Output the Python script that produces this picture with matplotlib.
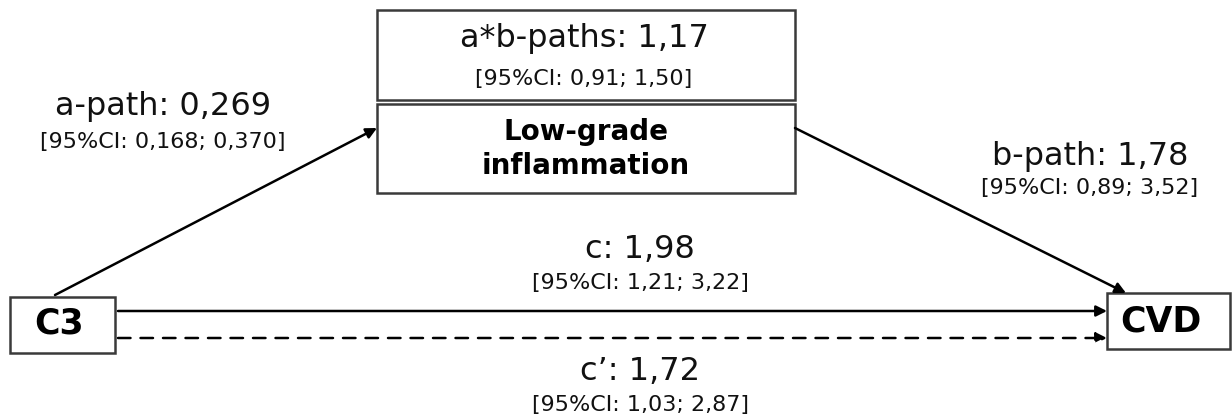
import matplotlib.pyplot as plt
from matplotlib.patches import Rectangle

# path estimates and confidence intervals
path_names = ['a-path', 'a*b-paths', 'b-path', 'c', 'c\u2019']
estimates = ['0,269', '1,17', '1,78', '1,98', '1,72']
ci_low = ['0,168', '0,91', '0,89', '1,21', '1,03']
ci_high = ['0,370', '1,50', '3,52', '3,22', '2,87']

node_labels = ['C3', 'Low-grade\ninflammation', 'CVD']

fig = plt.figure(figsize=(12.32, 4.2), dpi=100)
ax = fig.add_axes([0, 0, 1, 1])
ax.set_xlim(0, 1232)
ax.set_ylim(420, 0)
ax.axis('off')

box_col = '#3a3a3a'

def box(x0, y0, x1, y1):
    ax.add_patch(Rectangle((x0, y0), x1 - x0, y1 - y0, fill=False,
                           edgecolor=box_col, lw=1.8))

# boxes
box(377, 10, 795, 100)
box(377, 104, 795, 193)
box(10, 297, 115, 353)
box(1107, 293, 1230, 349)

# node labels
ax.text(59, 324, node_labels[0], ha='center', va='center', fontsize=25, fontweight='bold')
ax.text(586, 149, node_labels[1], ha='center', va='center', fontsize=20,
        fontweight='bold', linespacing=1.3)
ax.text(1161, 321, node_labels[2], ha='center', va='center', fontsize=25, fontweight='bold')

def arrow(p0, p1, ls='-'):
    ax.annotate('', xy=p1, xytext=p0,
                arrowprops=dict(arrowstyle='-|>', color='black', lw=1.8,
                                linestyle=ls, mutation_scale=16,
                                shrinkA=0, shrinkB=0))

arrow((55, 295), (377, 128))
arrow((795, 128), (1126, 293))
arrow((118, 311), (1107, 311))
arrow((118, 338), (1107, 338), ls=(0, (5, 4)))

# path labels: (x, y of estimate line, y of CI line)
label_pos = [(163, 106, 142), (584, 38, 79), (1090, 156, 188),
             (640, 249, 283), (640, 372, 405)]
for i, (x, y1, y2) in enumerate(label_pos):
    ax.text(x, y1, f'{path_names[i]}: {estimates[i]}', ha='center', va='center',
            fontsize=23, color='#111111')
    ax.text(x, y2, f'[95%CI: {ci_low[i]}; {ci_high[i]}]', ha='center', va='center',
            fontsize=16, color='#111111')

fig.savefig('out.png', dpi=100)
